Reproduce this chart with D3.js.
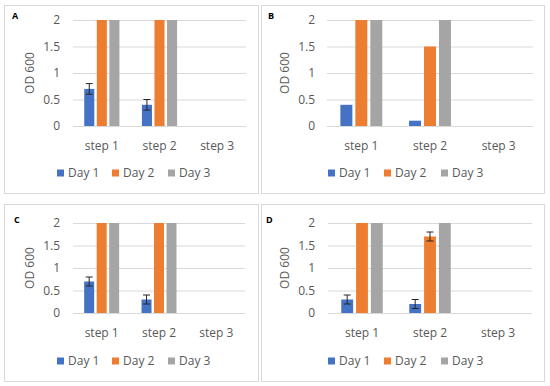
<!DOCTYPE html>
<html>
<head>
<meta charset="utf-8">
<script src="https://cdn.jsdelivr.net/npm/d3@7/dist/d3.min.js"></script>
<style>
    body { margin: 0; background: #fff; }
    svg text { font-family: "Open Sans", sans-serif; }
</style>
</head>
<body>
<div id="chart"></div>
<script>

// categories / legend
var steps = ["step 1", "step 2", "step 3"];
var days = ["Day 1", "Day 2", "Day 3"];
var yTicks = [0, 0.5, 1, 1.5, 2];
var dayColors = ["#4472C4", "#ED7D31", "#A5A5A5"];

// panel A
var aDay1 = [0.7, 0.4, 0];
var aDay2 = [2, 2, 0];
var aDay3 = [2, 2, 0];
var aErr1 = [0.1, 0.1, 0];

// panel B
var bDay1 = [0.4, 0.1, 0];
var bDay2 = [2, 1.5, 0];
var bDay3 = [2, 2, 0];

// panel C
var cDay1 = [0.7, 0.3, 0];
var cDay2 = [2, 2, 0];
var cDay3 = [2, 2, 0];
var cErr1 = [0.1, 0.1, 0];

// panel D
var dDay1 = [0.3, 0.2, 0];
var dDay2 = [2, 1.7, 0];
var dDay3 = [2, 2, 0];
var dErr1 = [0.1, 0.1, 0];
var dErr2 = [0, 0.1, 0];


/*
 *  BarPanel - one boxed Excel-style column chart
 */
BarPanel = function(_svg, _layout, _series, _errors) {
    this.svg = _svg;
    this.layout = _layout;
    this.series = _series;
    this.errors = _errors;
    this.initVis();
};

BarPanel.prototype.initVis = function() {
    var vis = this;
    var L = vis.layout;

    vis.g = vis.svg.append("g");

    // frame
    vis.g.append("rect")
        .attr("x", L.box[0] + 0.5).attr("y", L.box[1] + 0.5)
        .attr("width", L.box[2] - L.box[0]).attr("height", L.box[3] - L.box[1])
        .attr("fill", "#fff")
        .attr("stroke", "#d9d9d9");

    vis.g.append("text")
        .attr("x", L.letter[0]).attr("y", L.letter[1])
        .style("font-size", "9px")
        .style("font-weight", "bold")
        .style("fill", "#000")
        .text(L.name);

    vis.x = d3.scaleBand()
        .domain(steps)
        .range([L.left, L.right]);

    var groupW = vis.x.bandwidth() * 0.61;
    vis.xDay = d3.scaleBand()
        .domain(days)
        .range([-groupW / 2, groupW / 2])
        .paddingInner(0.2);

    vis.y = d3.scaleLinear()
        .domain([0, 2])
        .range([L.bottom, L.top]);

    vis.color = d3.scaleOrdinal()
        .domain(days)
        .range(dayColors);

    vis.updateVis();
};

BarPanel.prototype.updateVis = function() {
    var vis = this;
    var L = vis.layout;

    // gridlines + y labels
    var yAxis = d3.axisLeft(vis.y)
        .tickValues(yTicks)
        .tickSize(-(L.right - L.left))
        .tickPadding(L.left - L.tickRight)
        .tickFormat(d3.format(""));

    var yg = vis.g.append("g")
        .attr("transform", "translate(" + L.left + ",0)")
        .call(yAxis);
    yg.select(".domain").remove();
    yg.selectAll("line").attr("stroke", "#d9d9d9");
    yg.selectAll("text")
        .style("font-size", "12px")
        .style("fill", "#595959")
        .style("font-family", "'Open Sans', sans-serif");

    // category labels
    var xAxis = d3.axisBottom(vis.x)
        .tickSize(0)
        .tickPadding(0);
    var xg = vis.g.append("g")
        .attr("transform", "translate(0," + L.catY + ")")
        .call(xAxis);
    xg.select(".domain").remove();
    xg.selectAll("text")
        .attr("dy", "0.35em")
        .style("font-size", "12px")
        .style("fill", "#595959")
        .style("font-family", "'Open Sans', sans-serif");

    vis.g.append("text")
        .attr("transform", "translate(" + L.titleX + "," + ((L.top + L.bottom) / 2) + ") rotate(-90)")
        .attr("text-anchor", "middle")
        .attr("dy", "0.35em")
        .style("font-size", "12px")
        .style("fill", "#595959")
        .text("OD 600");

    // bars
    var bars = [];
    vis.series.forEach(function(vals, i) {
        vals.forEach(function(v, j) {
            bars.push({ step: steps[j], day: days[i], value: v,
                err: vis.errors[i] ? vis.errors[i][j] : 0 });
        });
    });

    vis.g.selectAll("rect.bar")
        .data(bars.filter(function(d) { return d.value > 0; }))
        .enter()
        .append("rect")
        .attr("class", "bar")
        .attr("x", function(d) { return vis.x(d.step) + vis.x.bandwidth() / 2 + vis.xDay(d.day); })
        .attr("y", function(d) { return vis.y(d.value); })
        .attr("width", vis.xDay.bandwidth())
        .attr("height", function(d) { return vis.y(0) - vis.y(d.value); })
        .attr("fill", function(d) { return vis.color(d.day); });

    // error bars
    var errs = vis.g.selectAll("g.err")
        .data(bars.filter(function(d) { return d.err > 0; }))
        .enter()
        .append("g")
        .attr("class", "err")
        .attr("stroke", "#262626")
        .attr("stroke-width", 1)
        .attr("transform", function(d) {
            return "translate(" + (vis.x(d.step) + vis.x.bandwidth() / 2 + vis.xDay(d.day) + vis.xDay.bandwidth() / 2) + ",0)";
        });
    errs.append("line")
        .attr("y1", function(d) { return vis.y(d.value - d.err); })
        .attr("y2", function(d) { return vis.y(d.value + d.err); });
    errs.append("line")
        .attr("x1", -3.5).attr("x2", 3.5)
        .attr("y1", function(d) { return vis.y(d.value + d.err); })
        .attr("y2", function(d) { return vis.y(d.value + d.err); });
    errs.append("line")
        .attr("x1", -3.5).attr("x2", 3.5)
        .attr("y1", function(d) { return vis.y(d.value - d.err); })
        .attr("y2", function(d) { return vis.y(d.value - d.err); });

    // legend
    var leg = vis.g.selectAll("g.legend")
        .data(days)
        .enter()
        .append("g")
        .attr("class", "legend")
        .attr("transform", function(d, i) { return "translate(" + L.legendX[i] + "," + L.legendY + ")"; });
    leg.append("rect")
        .attr("x", 0).attr("y", -3.5)
        .attr("width", 7).attr("height", 7)
        .attr("fill", function(d) { return vis.color(d); });
    leg.append("text")
        .attr("x", 11)
        .attr("dy", "0.35em")
        .style("font-size", "12px")
        .style("fill", "#595959")
        .text(function(d) { return d; });
};


var svg = d3.select("#chart").append("svg")
    .attr("width", 550)
    .attr("height", 386);

new BarPanel(svg, {
    name: "A", box: [4, 5, 258, 193], letter: [12, 19],
    left: 73, right: 246, top: 20, bottom: 126, tickRight: 60, titleX: 30,
    catY: 146, legendY: 173, legendX: [57, 112, 168]
}, [aDay1, aDay2, aDay3], [aErr1, null, null]);

new BarPanel(svg, {
    name: "B", box: [261, 5, 544, 193], letter: [268, 19],
    left: 327, right: 533, top: 20, bottom: 126, tickRight: 315, titleX: 285,
    catY: 146, legendY: 173, legendX: [328, 384, 441]
}, [bDay1, bDay2, bDay3], [null, null, null]);

new BarPanel(svg, {
    name: "C", box: [4, 204, 258, 381], letter: [14, 223],
    left: 73, right: 245, top: 223, bottom: 313, tickRight: 60, titleX: 30,
    catY: 333, legendY: 361, legendX: [57, 112, 168]
}, [cDay1, cDay2, cDay3], [cErr1, null, null]);

new BarPanel(svg, {
    name: "D", box: [261, 204, 544, 381], letter: [266, 223],
    left: 328, right: 532, top: 223, bottom: 313, tickRight: 315, titleX: 285,
    catY: 333, legendY: 361, legendX: [328, 384, 441]
}, [dDay1, dDay2, dDay3], [dErr1, dErr2, null]);

</script>
</body>
</html>
